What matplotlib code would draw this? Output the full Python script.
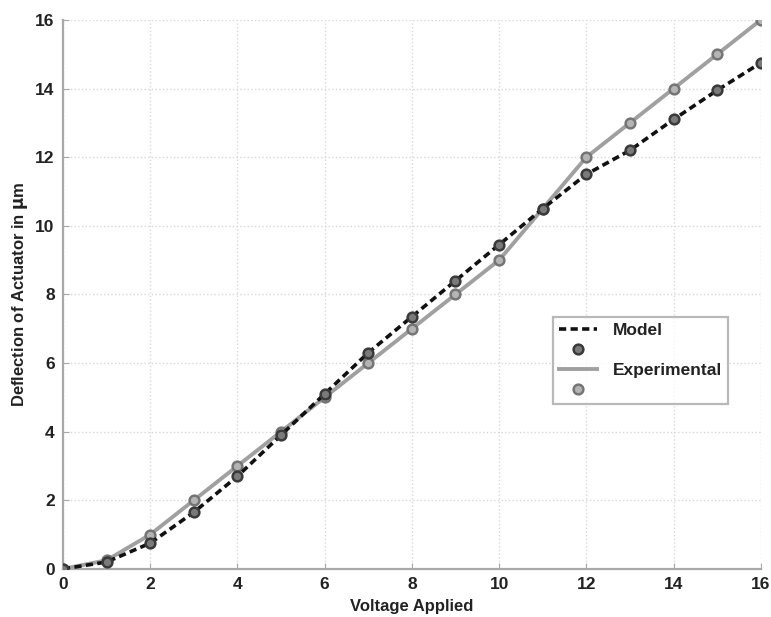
import numpy as np
from matplotlib import pyplot as plt
from matplotlib.lines import Line2D

# data
voltage = [0, 1, 2, 3, 4, 5, 6, 7, 8, 9, 10, 11, 12, 13, 14, 15, 16]
model = [0, 0.2, 0.75, 1.65, 2.7, 3.9, 5.1, 6.3, 7.35, 8.4, 9.45, 10.5, 11.5, 12.2, 13.1, 13.95, 14.75]
experimental = [0, 0.25, 1.0, 2.0, 3.0, 4.0, 5.0, 6.0, 7.0, 8.0, 9.0, 10.5, 12.0, 13.0, 14.0, 15.0, 16.0]
ticks = [0, 2, 4, 6, 8, 10, 12, 14, 16]

plt.rcParams['font.family'] = ['Liberation Sans', 'DejaVu Sans']

fig = plt.figure(figsize=(7.71, 6.17), dpi=100)
ax = fig.add_axes([0.0817, 0.078, 0.905, 0.8896])

model_mk = dict(ms=7, mfc='#7a7a7a', mec='#3a3a3a', mew=1.8)
exp_mk = dict(ms=7, mfc='#b4b4b4', mec='#757575', mew=1.8)

ax.plot(voltage, experimental, '-', color='#a0a0a0', lw=2.8, zorder=2)
ax.plot(voltage, experimental, 'o', zorder=3, **exp_mk)
ax.plot(voltage, model, '--', color='#111111', lw=2.6, dashes=(2.0, 1.2), zorder=4)
ax.plot(voltage, model, 'o', zorder=5, **model_mk)

ax.set_xlim(0, 16)
ax.set_ylim(0, 16)
ax.set_xticks(ticks)
ax.set_yticks(ticks)
ax.grid(True, color='#d8d8d8', ls=':', lw=1.0)
for s in ['top', 'right']:
    ax.spines[s].set_visible(False)
for s in ['left', 'bottom']:
    ax.spines[s].set_color('#a8a8a8')
    ax.spines[s].set_linewidth(1.6)
ax.tick_params(direction='in', length=4, color='#a8a8a8', labelsize=12.5, pad=6)
for lab in ax.get_xticklabels() + ax.get_yticklabels():
    lab.set_fontweight('bold')
    lab.set_color('#222222')

ax.set_xlabel('Voltage Applied', fontsize=12, fontweight='bold', color='#222222', labelpad=5)
ax.set_ylabel(r'Deflection of Actuator in $\mathbf{\mu}$m', fontsize=12, fontweight='bold',
              color='#222222', labelpad=4)

handles = [
    Line2D([], [], ls='--', color='#111111', lw=2.6, dashes=(2.0, 1.2)),
    Line2D([], [], ls='none', marker='o', **model_mk),
    Line2D([], [], ls='-', color='#a0a0a0', lw=2.8),
    Line2D([], [], ls='none', marker='o', **exp_mk),
]
labels = ['Model', ' ', 'Experimental', ' ']
leg = ax.legend(handles, labels, loc='upper left', bbox_to_anchor=(0.702, 0.459),
                frameon=True, fancybox=False, edgecolor='#a8a8a8', fontsize=12.5,
                handlelength=2.2, handletextpad=0.9, labelspacing=0.28, borderpad=0.35,
                borderaxespad=0)
leg.get_frame().set_linewidth(1.6)
for t in leg.get_texts():
    t.set_fontweight('bold')
    t.set_color('#222222')

fig.savefig('out.png', dpi=100)
